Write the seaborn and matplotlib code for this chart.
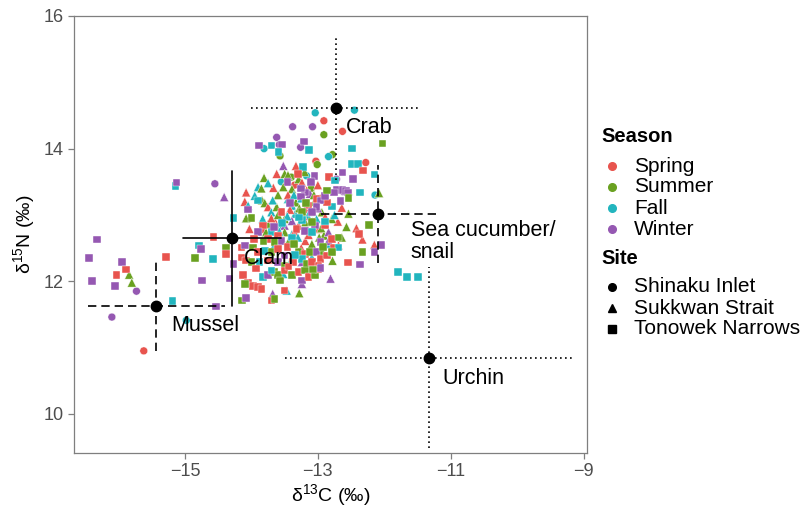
import matplotlib
matplotlib.use("Agg")
import matplotlib.pyplot as plt
from matplotlib.lines import Line2D
import seaborn as sns
import pandas as pd

# ---------------- data ----------------
seasons = ["Spring", "Summer", "Fall", "Winter"]
season_colors = ["#E8544E", "#6AA121", "#22B5BE", "#9558B2"]
sites = ["Shinaku Inlet", "Sukkwan Strait", "Tonowek Narrows"]

S, U, F, W = "Spring", "Summer", "Fall", "Winter"

# Shinaku Inlet (circles): (d13C, d15N, season)
shinaku = [
    (-12.91, 14.42, S), (-12.63, 14.26, S), (-13.03, 13.81, S), (-12.28, 13.79, S),
    (-15.62, 10.95, S), (-13.35, 13.45, S), (-12.95, 13.25, S),
    (-12.91, 14.21, U), (-13.57, 13.89, U), (-12.78, 13.91, U), (-13.01, 13.76, U),
    (-13.40, 13.57, U), (-13.10, 13.40, U),
    (-13.04, 14.54, F), (-12.45, 14.58, F), (-13.81, 14.00, F), (-12.84, 13.88, F),
    (-13.17, 13.59, F), (-12.14, 13.30, F), (-14.98, 11.41, F), (-13.55, 13.50, F),
    (-13.38, 14.33, W), (-13.08, 14.33, W), (-13.62, 14.17, W), (-13.58, 14.06, W),
    (-13.26, 14.02, W), (-12.72, 13.54, W), (-14.55, 13.47, W), (-15.73, 11.85, W),
    (-16.10, 11.46, W), (-12.62, 13.35, W),
]

# Sukkwan Strait (triangles)
sukkwan = [
    (-15.84, 12.10, U), (-15.80, 11.98, U), (-14.41, 13.27, W), (-13.52, 13.74, W),
    (-13.33, 13.74, S), (-13.50, 13.62, U), (-13.81, 13.56, U), (-14.08, 13.34, S),
    (-13.67, 13.41, S), (-13.90, 13.42, F), (-12.08, 13.33, U), (-12.54, 13.36, W),
    (-12.64, 13.11, S), (-12.54, 13.02, U), (-12.70, 12.90, S), (-12.57, 12.82, U),
    (-12.42, 12.80, S), (-12.33, 12.63, S), (-12.15, 12.55, S), (-12.64, 12.66, U),
    (-12.69, 12.54, S), (-12.78, 12.31, U), (-12.81, 12.04, W), (-13.68, 11.81, W),
    (-13.47, 11.86, F), (-13.28, 11.82, U),
    (-13.95, 13.29, F), (-13.84, 13.22, U), (-14.10, 13.20, S), (-13.80, 13.18, U),
    (-13.39, 13.39, U), (-13.17, 13.37, S), (-13.12, 13.32, W), (-13.45, 13.24, F),
    (-13.33, 13.19, U), (-12.89, 13.24, S), (-14.05, 13.14, F), (-13.29, 13.54, U),
    (-13.24, 13.49, S),
    (-14.08, 12.95, U), (-13.75, 13.12, S), (-13.70, 13.04, F), (-13.62, 13.12, U),
    (-13.50, 12.94, U), (-13.39, 13.14, F), (-13.34, 13.02, F), (-13.19, 13.09, S),
    (-13.02, 12.94, F), (-12.94, 13.04, U), (-12.89, 12.97, S), (-13.64, 12.89, S),
    (-13.57, 12.84, F), (-13.50, 12.84, W), (-13.83, 12.94, F), (-13.75, 12.86, U),
    (-13.19, 12.89, U), (-13.39, 12.91, W), (-13.29, 12.84, S), (-12.79, 12.94, U),
    (-14.03, 12.79, S), (-13.83, 12.79, S), (-13.78, 12.74, U), (-13.50, 12.74, U),
    (-13.39, 12.71, F), (-12.99, 12.79, S), (-12.91, 12.69, U), (-12.84, 12.74, W),
    (-13.19, 12.61, S), (-13.09, 12.56, U), (-12.86, 12.56, F), (-12.84, 12.61, W),
    (-13.39, 12.34, F), (-13.09, 12.36, F), (-12.94, 12.46, U), (-13.24, 12.29, W),
    (-13.52, 12.11, F), (-13.24, 11.96, W),
    (-13.60, 13.30, U), (-13.45, 13.30, S), (-13.25, 13.25, F), (-13.05, 13.20, U),
    (-13.70, 12.95, S), (-13.15, 12.98, F), (-13.00, 13.10, W), (-13.35, 12.75, S),
    (-13.55, 12.65, U), (-13.65, 12.55, F), (-13.25, 12.50, S), (-12.95, 12.80, U),
    (-12.75, 13.00, F), (-13.85, 13.40, U), (-13.75, 13.48, F), (-13.20, 13.65, U),
    (-13.00, 13.45, S), (-13.45, 13.60, U), (-13.62, 13.62, S),
    (-13.42, 13.08, S), (-13.28, 13.10, U), (-13.12, 13.05, F), (-13.60, 13.00, U),
    (-13.46, 12.98, F), (-13.22, 12.98, S), (-13.08, 12.90, U), (-13.58, 12.75, F),
    (-13.44, 12.60, U), (-13.30, 12.66, F), (-13.14, 12.70, S), (-12.98, 12.66, U),
    (-13.68, 13.22, F), (-13.52, 13.42, U), (-13.36, 13.30, F), (-13.06, 13.30, U),
]

# Tonowek Narrows (squares)
tonowek = [
    (-16.32, 12.63, W), (-16.44, 12.35, W), (-16.40, 12.00, W), (-15.95, 12.29, W),
    (-16.05, 11.93, W), (-15.89, 12.18, S), (-16.03, 12.09, S), (-15.19, 11.70, F),
    (-15.29, 12.37, S), (-14.53, 11.62, W), (-14.74, 12.01, W), (-14.58, 12.34, F),
    (-14.85, 12.35, U), (-14.79, 12.54, F), (-14.76, 12.49, W), (-14.57, 12.67, S),
    (-14.38, 12.50, U), (-14.38, 12.41, S), (-14.33, 12.04, W), (-14.27, 12.26, W),
    (-14.27, 12.95, F), (-15.14, 13.44, F), (-15.13, 13.49, W), (-13.89, 14.05, W),
    (-13.70, 14.05, F), (-13.54, 14.06, W), (-13.59, 13.95, F), (-13.21, 14.11, W),
    (-13.13, 13.98, F), (-12.49, 14.00, F), (-12.03, 14.08, U), (-13.22, 13.72, F),
    (-12.49, 13.77, F), (-12.40, 13.77, F), (-12.32, 13.67, S), (-12.15, 13.61, F),
    (-12.63, 13.64, W), (-12.47, 13.54, W), (-13.46, 13.50, W), (-12.83, 13.57, S),
    (-13.05, 13.59, W), (-12.74, 13.52, F), (-12.37, 13.34, F), (-12.71, 13.38, W),
    (-12.63, 13.38, W), (-12.58, 13.36, W), (-12.55, 13.34, W), (-12.76, 13.34, W),
    (-12.54, 13.26, U), (-12.66, 13.21, W), (-12.79, 13.13, F), (-12.86, 13.19, S),
    (-12.23, 12.85, U), (-12.38, 12.71, S), (-12.04, 12.55, W), (-12.15, 12.44, W),
    (-12.33, 12.44, U), (-12.55, 12.28, S), (-12.37, 12.25, W), (-11.79, 12.14, F),
    (-11.66, 12.06, F), (-11.49, 12.06, F), (-13.50, 11.86, S), (-13.70, 11.71, S),
    (-14.14, 11.71, U), (-14.08, 11.75, W),
    (-13.90, 13.22, F), (-13.19, 13.34, W), (-13.25, 13.28, W), (-13.02, 13.24, S),
    (-12.96, 13.22, W), (-12.89, 13.29, W), (-12.86, 13.37, U), (-13.02, 13.12, W),
    (-13.14, 13.14, S), (-14.05, 13.08, W),
    (-14.00, 12.95, U), (-13.55, 13.04, S), (-13.24, 13.04, U), (-13.09, 13.04, W),
    (-13.04, 12.84, W), (-13.24, 12.92, F), (-13.09, 12.89, U), (-12.89, 12.84, S),
    (-12.89, 12.90, F), (-13.83, 12.84, S),
    (-13.90, 12.74, W), (-13.70, 12.74, F), (-13.60, 12.69, S), (-13.32, 12.79, S),
    (-13.19, 12.76, W), (-13.09, 12.74, F), (-12.79, 12.64, S), (-12.69, 12.66, U),
    (-13.39, 12.66, F), (-13.75, 12.64, S), (-13.65, 12.59, U), (-13.55, 12.61, W),
    (-12.96, 12.59, W), (-12.76, 12.51, S), (-12.69, 12.51, F),
    (-14.15, 12.51, S), (-14.10, 12.54, W), (-13.98, 12.51, U), (-13.90, 12.44, S),
    (-13.80, 12.46, F), (-13.70, 12.44, U), (-13.60, 12.49, S), (-13.50, 12.39, W),
    (-13.29, 12.44, U), (-13.19, 12.41, S), (-13.12, 12.44, U), (-13.02, 12.44, W),
    (-12.96, 12.34, S), (-12.86, 12.39, S), (-12.79, 12.44, U), (-14.15, 12.36, S),
    (-14.08, 12.31, S), (-14.00, 12.29, U), (-13.88, 12.29, F), (-13.75, 12.31, S),
    (-13.60, 12.29, W), (-13.50, 12.24, U), (-13.37, 12.29, S), (-13.24, 12.34, F),
    (-13.17, 12.26, U), (-13.09, 12.29, S), (-12.99, 12.24, S),
    (-14.13, 12.09, S), (-14.05, 11.98, S), (-13.98, 11.93, S), (-13.90, 11.91, S),
    (-13.85, 11.88, S), (-14.10, 11.96, U), (-13.83, 12.06, F), (-13.75, 12.09, W),
    (-13.65, 12.14, U), (-13.60, 12.09, U), (-13.57, 12.01, U), (-13.50, 12.16, S),
    (-13.39, 12.09, U), (-13.29, 12.14, S), (-13.24, 12.01, W), (-13.19, 12.16, U),
    (-13.14, 12.06, S), (-13.04, 12.09, U), (-12.99, 12.18, S), (-13.07, 12.18, U),
    (-12.96, 12.20, W), (-13.93, 12.19, S), (-13.70, 12.16, F), (-13.65, 11.73, U),
    (-13.25, 13.40, W), (-13.10, 13.50, W), (-13.30, 13.62, S),
    (-13.46, 12.52, S), (-13.36, 12.56, U), (-13.54, 12.88, F), (-13.66, 12.82, W),
    (-13.28, 12.96, F), (-13.18, 13.18, U), (-13.42, 13.18, W), (-13.34, 12.40, F),
    (-13.44, 12.22, S), (-13.82, 12.60, U), (-13.96, 12.64, S), (-12.92, 12.52, U),
]

# group means and SDs
groups = ["Crab", "Sea cucumber/\nsnail", "Clam", "Mussel", "Urchin"]
mean_c13 = [-12.73, -12.09, -14.29, -15.43, -11.33]
mean_n15 = [14.62, 13.02, 12.65, 11.63, 10.85]
sd_c13 = [1.27, 0.87, 0.74, 1.03, 2.17]
sd_n15 = [1.10, 0.74, 1.02, 0.68, 1.37]
group_ls = [(0, (1, 2)), (0, (5, 3)), "-", (0, (5, 3)), (0, (1, 2))]
label_dx = [0.15, 0.49, 0.18, 0.22, 0.20]
label_dy = [-0.30, -0.42, -0.30, -0.30, -0.31]

# ---------------- figure ----------------
sns.set_theme(style="white")
plt.rcParams["font.family"] = ["Liberation Sans", "DejaVu Sans"]
plt.rcParams["mathtext.default"] = "regular"
plt.rcParams["text.color"] = "black"
plt.rcParams["axes.labelcolor"] = "black"

W_PX, H_PX = 803, 509
fig = plt.figure(figsize=(W_PX / 100, H_PX / 100), dpi=100)
L, R, T, B = 74, 587, 16, 453
ax = fig.add_axes([L / W_PX, 1 - B / H_PX, (R - L) / W_PX, (B - T) / H_PX])

pal = dict(zip(seasons, season_colors))
site_data = [shinaku, sukkwan, tonowek]
site_markers = ["o", "^", "s"]
site_sizes = [32, 42, 30]
for name, pts, mk, sz in zip(sites, site_data, site_markers, site_sizes):
    df = pd.DataFrame(pts, columns=["d13C", "d15N", "Season"])
    sns.scatterplot(data=df, x="d13C", y="d15N", hue="Season", palette=pal,
                    marker=mk, s=sz, edgecolor="white", linewidth=0.3,
                    legend=False, ax=ax, zorder=2)

for g, mx, my, sx, sy, ls, dx, dy in zip(groups, mean_c13, mean_n15, sd_c13,
                                         sd_n15, group_ls, label_dx, label_dy):
    ax.plot([mx - sx, mx + sx], [my, my], color="black", lw=1.2, ls=ls, zorder=3)
    ax.plot([mx, mx], [my - sy, my + sy], color="black", lw=1.2, ls=ls, zorder=3)
    ax.plot([mx], [my], "o", color="black", ms=7.5, zorder=4)
    ax.text(mx + dx, my + dy, g, fontsize=15.5, ha="left", va="center",
            linespacing=1.05, color="black", zorder=5)

ax.set_xlim(-16.67, -8.95)
ax.set_ylim(9.41, 16.0)
ax.set_xticks([-15, -13, -11, -9])
ax.set_xticklabels(["\u221215", "\u221213", "\u221211", "\u22129"])
ax.set_yticks([10, 12, 14, 16])
for sp in ax.spines.values():
    sp.set_color("#7F7F7F")
    sp.set_linewidth(0.9)
ax.tick_params(axis="both", which="major", length=4.5, width=0.9, color="#7F7F7F",
               labelcolor="#4D4D4D", labelsize=13, direction="out",
               bottom=True, left=True, pad=3)
ax.set_xlabel("\u03b4$^{13}$C (\u2030)", fontsize=14, color="black", labelpad=1)
ax.set_ylabel("\u03b4$^{15}$N (\u2030)", fontsize=14, color="black", labelpad=5)

# ---------------- legend (manual) ----------------
def fx(px):
    return px / W_PX

def fy(py):
    return 1 - py / H_PX

fig.text(fx(601), fy(137), "Season", fontsize=14.5, fontweight="bold",
         ha="left", va="center", color="black")
for i, (lab, col) in enumerate(zip(seasons, season_colors)):
    yy = 166 + 21 * i
    fig.add_artist(Line2D([fx(612)], [fy(yy)], marker="o", color=col, ms=5.5,
                          ls="none", transform=fig.transFigure))
    fig.text(fx(634), fy(yy), lab, fontsize=15, ha="left", va="center",
             color="black")

fig.text(fx(601), fy(258), "Site", fontsize=14.5, fontweight="bold",
         ha="left", va="center", color="black")
for i, (lab, mk) in enumerate(zip(sites, site_markers)):
    yy = 287 + 21 * i
    fig.add_artist(Line2D([fx(612)], [fy(yy)], marker=mk, color="black", ms=5.5,
                          ls="none", transform=fig.transFigure))
    fig.text(fx(634), fy(yy), lab, fontsize=15, ha="left", va="center",
             color="black")

fig.savefig("out.png", dpi=100)
